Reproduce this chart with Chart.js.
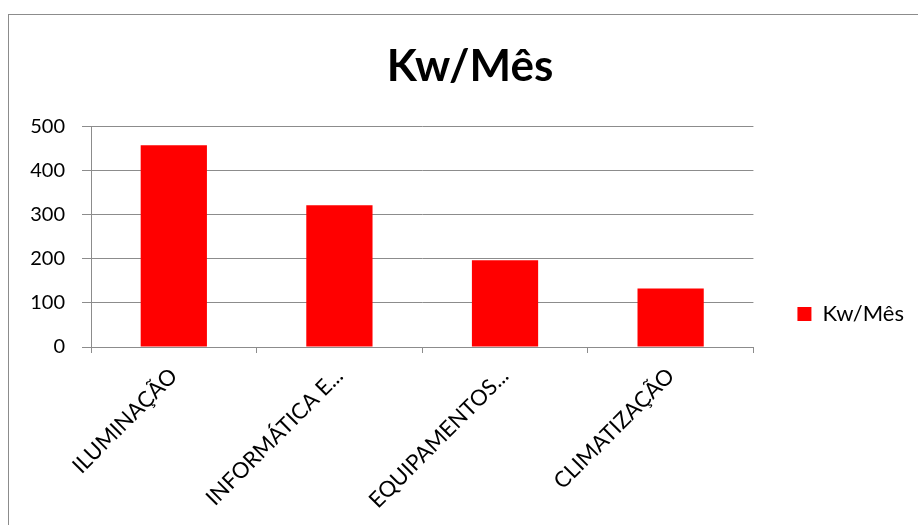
<!DOCTYPE html>
<html>
<head>
<meta charset="utf-8">
<script src="https://cdn.jsdelivr.net/npm/chart.js@4"></script>
<style>
  body { margin: 0; background: #fff; }
  #wrap { position: relative; width: 918px; height: 525px; overflow: hidden; }
  #frame { position: absolute; left: 8px; top: 14px; width: 1000px; height: 600px;
           border-left: 1px solid #8c8c8c; border-top: 1px solid #8c8c8c; }
  canvas { position: absolute; left: 0; top: 0; }
</style>
</head>
<body>
<div id="wrap">
  <div id="frame"></div>
  <canvas id="chart" width="918" height="525"></canvas>
</div>
<script>
const categories = ["ILUMINAÇÃO", "INFORMÁTICA E...", "EQUIPAMENTOS...", "CLIMATIZAÇÃO"];
const kwMes = [458, 322, 197, 133];
const seriesName = "Kw/Mês";

const red = "#FF0000";
const gray = "#8c8c8c";
const font = "Lato";

const ctx = document.getElementById("chart").getContext("2d");

// dados
let chartData = {
  labels: categories,
  datasets: [
    {
      label: seriesName,
      data: kwMes,
      backgroundColor: red,
      borderWidth: 0,
      categoryPercentage: 1,
      barPercentage: 0.4,
    },
  ],
};

// opções
let chartOptions = {
  responsive: false,
  animation: false,
  layout: { padding: { left: 26, right: 4, top: 0, bottom: 11 } },
  plugins: {
    title: {
      display: true,
      text: "Kw/Mês",
      color: "#000",
      font: { family: font, size: 44, weight: "bold" },
      padding: { top: 40, bottom: 34 },
    },
    legend: {
      position: "right",
      // título vazio só para empurrar a legenda para baixo do título do gráfico
      title: { display: true, text: " ", font: { size: 10 }, padding: { top: 102, bottom: 0 } },
      labels: {
        color: "#000",
        font: { family: font, size: 22 },
        boxWidth: 14,
        boxHeight: 14,
        padding: 44,
      },
    },
    tooltip: { enabled: false },
  },
  scales: {
    x: {
      afterFit: (s) => { s.height = 167; },
      grid: { drawOnChartArea: false, tickLength: 6, color: gray },
      border: { color: gray },
      ticks: {
        color: "#000",
        font: { family: font, size: 22 },
        minRotation: 45,
        maxRotation: 45,
        autoSkip: false,
        padding: 10,
      },
    },
    y: {
      min: 0,
      max: 500,
      afterFit: (s) => { s.width = 65; },
      grid: { color: gray, tickLength: 9 },
      border: { color: gray },
      ticks: {
        stepSize: 100,
        color: "#000",
        font: { family: font, size: 20 },
        padding: 17,
      },
    },
  },
};

const kwChart = new Chart(ctx, {
  type: "bar",
  data: chartData,
  options: chartOptions,
});
</script>
</body>
</html>
